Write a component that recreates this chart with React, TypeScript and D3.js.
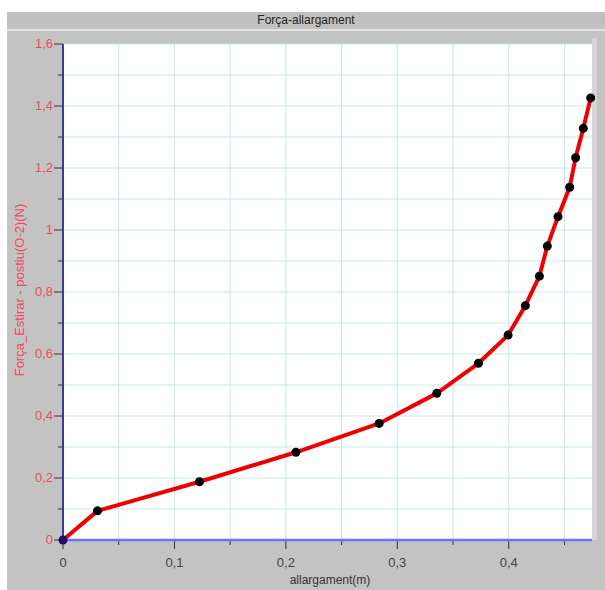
import React, { useEffect, useRef } from 'react';
import * as d3 from 'd3';

// elongation (m) and force (N)
const allargament = [0, 0.031, 0.1225, 0.209, 0.2837, 0.3354, 0.3728, 0.3994, 0.4149, 0.4275, 0.4346, 0.4442, 0.4547, 0.46, 0.4669, 0.4735];
const forca = [0, 0.094, 0.188, 0.283, 0.376, 0.473, 0.57, 0.661, 0.756, 0.851, 0.948, 1.043, 1.138, 1.233, 1.328, 1.426];
const xTicks = [0, 0.1, 0.2, 0.3, 0.4];
const yTicks = [0, 0.2, 0.4, 0.6, 0.8, 1, 1.2, 1.4, 1.6];

const fmt = (v: number) => String(+v.toFixed(2)).replace('.', ',');

const App = () => {
    const svgRef = useRef<SVGSVGElement>(null);

    useEffect(() => {
        const svg = d3.select(svgRef.current);
        svg.selectAll('*').remove();
        const W = 605, H = 590;
        const left = 63, right = 592, top = 44, bottom = 540;

        svg.attr('width', W).attr('height', H);

        // grey panel + title bar
        svg.append('rect').attr('x', 7).attr('y', 12).attr('width', W - 7).attr('height', H - 12).attr('fill', '#c3c3c3');
        svg.append('rect').attr('x', 7).attr('y', 12).attr('width', W - 7).attr('height', 17).attr('fill', '#c0c0c0');
        svg.append('line').attr('x1', 7).attr('x2', W).attr('y1', 30).attr('y2', 30).attr('stroke', '#e2e2e2').attr('stroke-width', 2);
        svg.append('rect').attr('x', right).attr('y', top - 6).attr('width', 5).attr('height', bottom - top + 6).attr('fill', '#d6d6d6');
        svg.append('text').text('Força-allargament')
            .attr('x', 306).attr('y', 24).attr('text-anchor', 'middle')
            .attr('font-size', '12px').attr('fill', '#222');

        const x = d3.scaleLinear().domain([0, 0.4747]).range([left, right]);
        const y = d3.scaleLinear().domain([0, 1.6]).range([bottom, top]);

        svg.append('rect').attr('x', left).attr('y', top).attr('width', right - left).attr('height', bottom - top).attr('fill', '#fff');

        // grid
        const g = svg.append('g');
        d3.range(0.05, 0.47, 0.05).forEach(v => {
            g.append('line').attr('x1', x(v)).attr('x2', x(v)).attr('y1', top).attr('y2', bottom)
                .attr('stroke', '#c9e4f0').attr('stroke-width', 1);
        });
        d3.range(0.1, 1.65, 0.1).forEach(v => {
            g.append('line').attr('x1', left).attr('x2', right).attr('y1', y(v)).attr('y2', y(v))
                .attr('stroke', '#c9e4f0').attr('stroke-width', 1);
        });

        // y axis ticks + labels
        d3.range(0, 1.65, 0.1).forEach((v, i) => {
            const major = i % 2 === 0;
            svg.append('line').attr('x1', left - (major ? 9 : 5)).attr('x2', left).attr('y1', y(v)).attr('y2', y(v))
                .attr('stroke', '#333').attr('stroke-width', 1);
        });
        yTicks.forEach(v => {
            svg.append('text').text(fmt(v)).attr('x', left - 10).attr('y', y(v) + 4)
                .attr('text-anchor', 'end').attr('font-size', '13px').attr('fill', '#e8505a');
        });

        // x axis ticks + labels
        d3.range(0, 0.47, 0.05).forEach((v, i) => {
            const major = i % 2 === 0;
            svg.append('line').attr('x1', x(v)).attr('x2', x(v)).attr('y1', bottom).attr('y2', bottom + (major ? 9 : 5))
                .attr('stroke', '#333').attr('stroke-width', 1);
        });
        xTicks.forEach(v => {
            svg.append('text').text(fmt(v)).attr('x', x(v)).attr('y', 567)
                .attr('text-anchor', 'middle').attr('font-size', '13px').attr('fill', '#444');
        });

        svg.append('line').attr('x1', left).attr('x2', right).attr('y1', bottom).attr('y2', bottom)
            .attr('stroke', '#7070ff').attr('stroke-width', 2.5);
        svg.append('line').attr('x1', left).attr('x2', left).attr('y1', top).attr('y2', bottom)
            .attr('stroke', '#3a3aa0').attr('stroke-width', 2);

        svg.append('text').text('allargament(m)').attr('x', 330).attr('y', 584)
            .attr('text-anchor', 'middle').attr('font-size', '12px').attr('fill', '#333');
        svg.append('text').text('Força_Estirar - postiu(O-2)(N)')
            .attr('transform', `translate(24,${290}) rotate(-90)`)
            .attr('text-anchor', 'middle').attr('font-size', '13px').attr('fill', '#e8505a');

        // data
        const pts = allargament.map((a, i) => [a, forca[i]] as [number, number]);
        svg.append('path').datum(pts)
            .attr('d', d3.line<[number, number]>().x(d => x(d[0])).y(d => y(d[1])))
            .attr('fill', 'none').attr('stroke', '#ee0000').attr('stroke-width', 4).attr('stroke-linejoin', 'round');
        svg.selectAll('circle.p').data(pts).enter().append('circle')
            .attr('cx', d => x(d[0])).attr('cy', d => y(d[1])).attr('r', 4.5)
            .attr('fill', (d, i) => (i === 0 ? '#1a1060' : '#000'));
    }, []);

    return <svg ref={svgRef} style={{ position: 'absolute', left: 0, top: 0, fontFamily: 'Arial, "Liberation Sans", sans-serif' }} />;
};

export default App;
